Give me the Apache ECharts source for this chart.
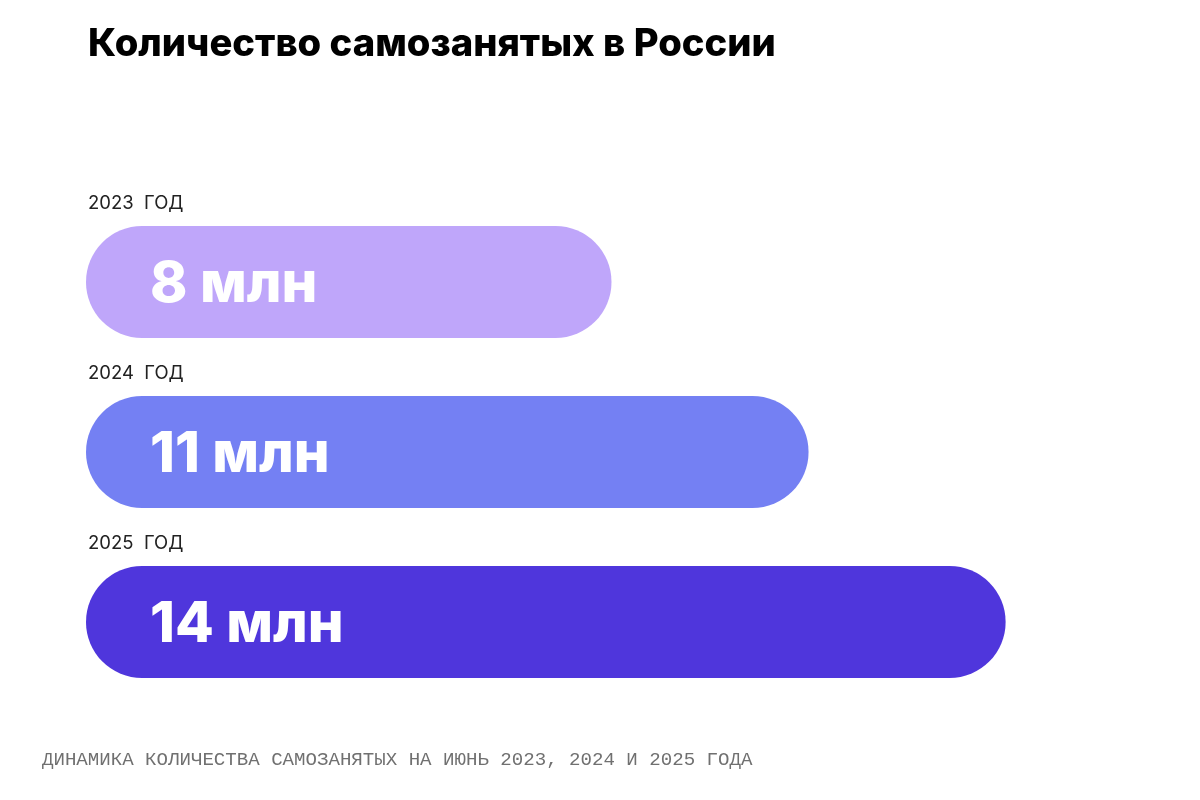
<!DOCTYPE html>
<html><head><meta charset="utf-8">
<script src="https://cdn.jsdelivr.net/npm/echarts@6/dist/echarts.min.js"></script>
<style>html,body{margin:0;padding:0;background:#fff}#c{width:1200px;height:800px}</style>
</head><body><div id="c"></div>
<script>
const titleText = 'Количество самозанятых в России';
const footerText = 'ДИНАМИКА КОЛИЧЕСТВА САМОЗАНЯТЫХ НА ИЮНЬ 2023, 2024 И 2025 ГОДА';
const categories = ['2023  ГОД', '2024  ГОД', '2025  ГОД'];
const values = [8, 11, 14];
const valueLabels = ['8 млн', '11 млн', '14 млн'];
const colors = ['#bfa6fa', '#7480f3', '#4f36dc'];

const chart = echarts.init(document.getElementById('c'));
chart.setOption({
  backgroundColor: '#ffffff',
  animation: false,
  title: {
    text: titleText, left: 83, top: 21,
    textStyle: {fontFamily: 'Inter', fontWeight: 800, fontSize: 38.2, color: '#000'}
  },
  graphic: [{
    type: 'text', left: 42, top: 750,
    style: {text: footerText, fontFamily: 'Liberation Mono', fontSize: 19.1, fill: '#707070'}
  }],
  grid: {left: 86, right: 63, top: 197, bottom: 93},
  xAxis: {type: 'value', min: 0, max: 16, show: false},
  yAxis: {
    type: 'category', data: categories, inverse: true,
    axisLine: {show: false}, axisTick: {show: false}, splitLine: {show: false},
    axisLabel: {
      inside: true, margin: 2, align: 'left', verticalAlign: 'bottom',
      padding: [0, 0, 68, 0],
      fontFamily: 'Inter', fontSize: 18.5, color: '#222', lineHeight: 22
    }
  },
  series: [{
    type: 'bar', barWidth: 112,
    data: values.map((v, i) => ({value: v, itemStyle: {color: colors[i], borderRadius: 56}})),
    label: {
      show: true, position: 'insideLeft', distance: 64, offset: [0, 3],
      formatter: p => valueLabels[p.dataIndex],
      fontFamily: 'Inter', fontWeight: 800, fontSize: 56.5, color: '#fff'
    }
  }]
});
</script></body></html>
